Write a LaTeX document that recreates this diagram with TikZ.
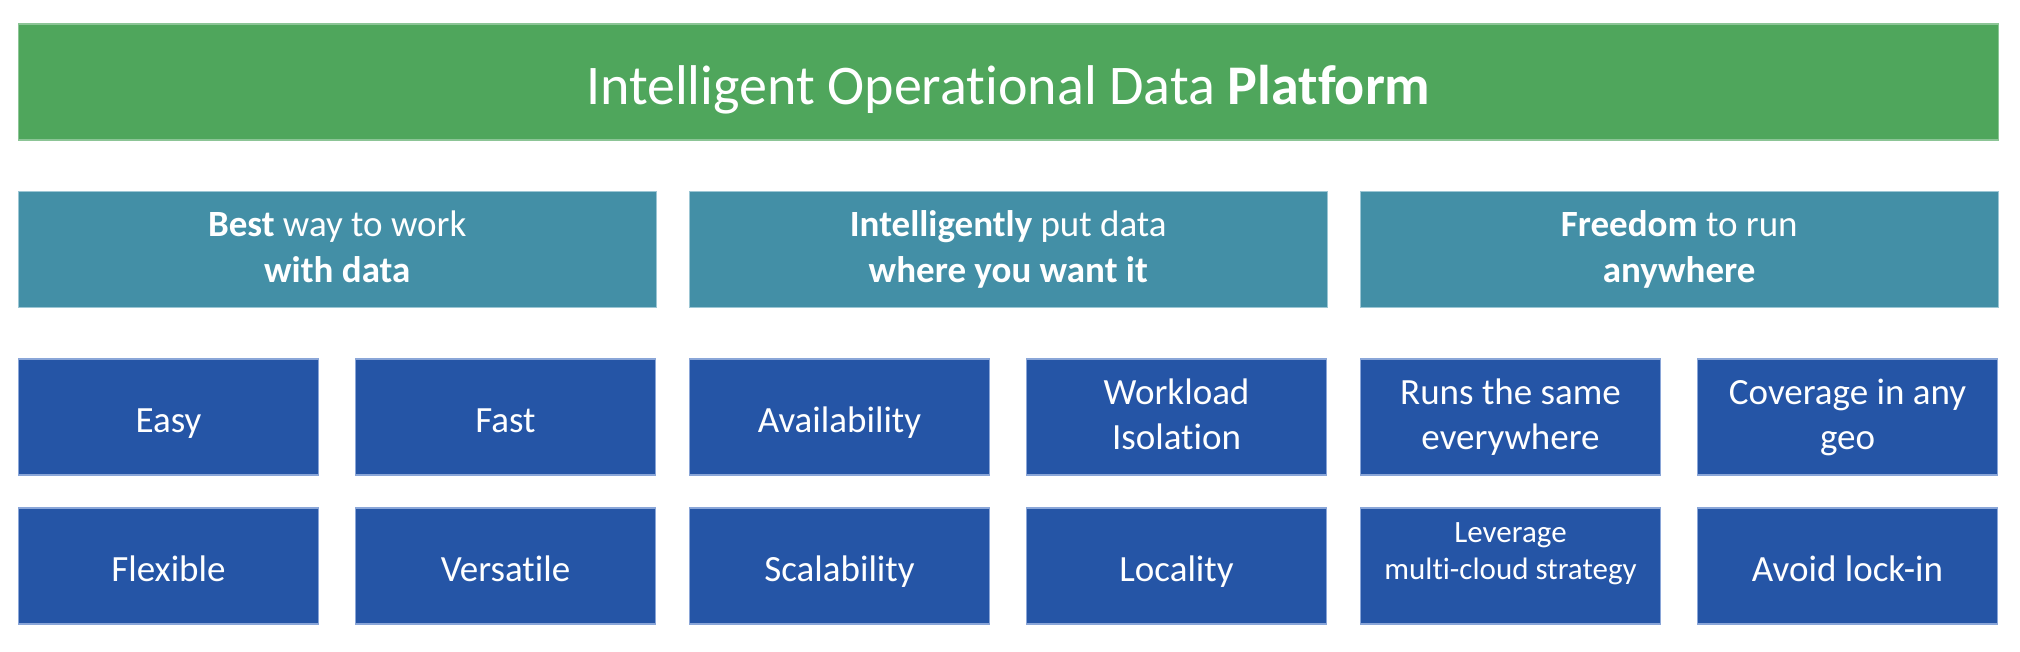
\documentclass[tikz,border=0pt]{standalone}
\usepackage{fontspec}
\setmainfont{Carlito}[Ligatures=NoCommon]
\definecolor{ggreen}{HTML}{4FA65C}
\definecolor{ggreenE}{HTML}{8CC596}
\definecolor{tteal}{HTML}{438FA6}
\definecolor{ttealE}{HTML}{9CC6D4}
\definecolor{bblue}{HTML}{2555A6}
\definecolor{bblueE}{HTML}{8AA6D8}
\newcommand\bstrut{\rule[-0.16em]{0pt}{1.14em}}
\newcommand\tstrut{\rule[-0.16em]{0pt}{\dimexpr1.14em+9pt\relax}}
\begin{document}
\begin{tikzpicture}[x=1pt,y=-1pt,
  oneline/.style={execute at begin node=\bstrut,execute at end node=\bstrut},
  twoline/.style={execute at begin node=\tstrut,execute at end node=\bstrut},
  titlebox/.style={oneline,fill=ggreen,draw=ggreenE,line width=1.2pt,minimum width=1980pt,minimum height=116pt,inner sep=0pt,text=white,font=\fontsize{56}{64}\selectfont},
  headbox/.style={twoline,fill=tteal,draw=ttealE,line width=1.2pt,minimum width=638pt,minimum height=116pt,inner sep=0pt,text=white,align=center,font=\fontsize{37}{46}\selectfont},
  itembox/.style={oneline,fill=bblue,draw=bblueE,line width=1.2pt,minimum width=300pt,minimum height=116pt,inner sep=0pt,text=white,align=center,font=\fontsize{37}{45}\selectfont},
  smalltext/.style={font=\fontsize{31}{37}\selectfont}]
\useasboundingbox (0,0) rectangle (2020,652);
\node[titlebox] (title) at (1008.25,82) {Intelligent Operational Data \textbf{Platform}};
\node[headbox] (h1) at (337.25,249.5) {\textbf{Best} way to work\\\textbf{with data}};
\node[headbox] (h2) at (1008.25,249.5) {\textbf{Intelligently} put data\\\textbf{where you want it}};
\node[headbox] (h3) at (1679.25,249.5) {\textbf{Freedom} to run\\\textbf{anywhere}};
\node[itembox] (easy) at (168.5,417) {Easy};
\node[itembox] (fast) at (505.5,417) {Fast};
\node[itembox] (avail) at (839.5,417) {Availability};
\node[itembox,twoline] (work) at (1176.5,417) {Workload\\Isolation};
\node[itembox,twoline] (runs) at (1510.5,417) {Runs the same\\everywhere};
\node[itembox,twoline] (cov) at (1847.5,417) {Coverage in any\\geo};
\node[itembox] (flex) at (168.5,566) {Flexible};
\node[itembox] (vers) at (505.5,566) {Versatile};
\node[itembox] (scal) at (839.5,566) {Scalability};
\node[itembox] (loc) at (1176.5,566) {Locality};
\node[itembox,smalltext] (lev) at (1510.5,566) {Leverage\\multi-cloud strategy\\[-13pt]~};
\node[itembox] (lock) at (1847.5,566) {Avoid lock-in};
\end{tikzpicture}
\end{document}
